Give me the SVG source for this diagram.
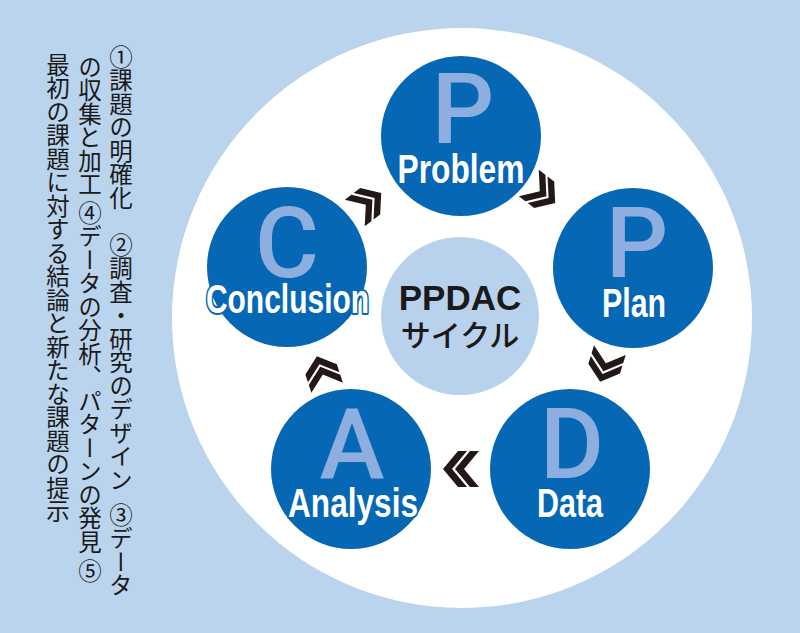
<svg xmlns="http://www.w3.org/2000/svg" xmlns:xlink="http://www.w3.org/1999/xlink" width="800" height="633" viewBox="0 0 800 633">
<style>
.node{fill:#0667b4}
.big{font-family:Roboto,"Liberation Sans",sans-serif;font-weight:500;font-size:98px;fill:#8eaee0;text-anchor:middle}
.lbl{font-family:"Liberation Sans",Arial,sans-serif;font-weight:bold;font-size:41px;fill:#ffffff;text-anchor:middle;stroke:#0667b4;stroke-width:4;stroke-linejoin:round;paint-order:stroke}
.note{font-family:"Noto Sans CJK JP","Noto Sans CJK SC",sans-serif;font-size:23.5px;fill:#1a1a1a;writing-mode:vertical-rl}
.chev{fill:#231815}
</style>
<defs>
<g id="chev">
<polygon points="-6,-18 3,-18 18,0 3,18 -6,18 9,0"/>
<polygon points="-18,-18 -9,-18 6,0 -9,18 -18,18 -3,0"/>
</g>
</defs>
<rect x="0" y="0" width="800" height="633" fill="#bad4ee"/>
<circle cx="462" cy="318" r="290" fill="#ffffff"/>
<g id="notes">
<text class="note" x="121" y="45">①課題の明確化&#12288;②調査・研究のデザイン&#8194;③データ</text>
<text class="note" x="90" y="55">の収集と加工 ④データの分析、パターンの発見 ⑤</text>
<text class="note" x="58" y="53">最初の課題に対する結論と新たな課題の提示</text>
</g>
<g id="center">
<circle cx="460" cy="316" r="79" fill="#b8d2ee"/>
<text x="460" y="310" font-family="'Liberation Sans',Arial,sans-serif" font-weight="bold" font-size="35" text-anchor="middle" fill="#1a1a1a">PPDAC</text>
<text x="460" y="346" font-family="'Noto Sans CJK JP',sans-serif" font-weight="500" font-size="30" text-anchor="middle" fill="#1a1a1a">サイクル</text>
</g>
<g id="connectors" class="chev">
<use xlink:href="#chev" transform="translate(368,203) rotate(-37) scale(0.92)"/>
<use xlink:href="#chev" transform="translate(542,193) rotate(37) scale(0.92)"/>
<use xlink:href="#chev" transform="translate(605,366) rotate(107) scale(0.92)"/>
<use xlink:href="#chev" transform="translate(461,469) rotate(180)"/>
<use xlink:href="#chev" transform="translate(322,372) rotate(-108) scale(0.92)"/>
</g>
<g id="problem">
<circle class="node" cx="461" cy="136" r="80"/>
<text class="big" x="463" y="143">P</text>
<text class="lbl" transform="translate(461,183) scale(0.774,1)">Problem</text>
</g>
<g id="plan">
<circle class="node" cx="633" cy="268" r="80"/>
<text class="big" x="637" y="277">P</text>
<text class="lbl" transform="translate(634,317) scale(0.739,1)">Plan</text>
</g>
<g id="data">
<circle class="node" cx="570" cy="469" r="80"/>
<text class="big" x="572" y="478">D</text>
<text class="lbl" transform="translate(570,517) scale(0.743,1)">Data</text>
</g>
<g id="analysis">
<circle class="node" cx="351" cy="469" r="80"/>
<text class="big" x="352" y="478">A</text>
<text class="lbl" transform="translate(353,517) scale(0.771,1)">Analysis</text>
</g>
<g id="conclusion">
<circle class="node" cx="287" cy="267" r="80"/>
<text class="big" x="287" y="277">C</text>
<text class="lbl" transform="translate(287.5,313) scale(0.731,1)">Conclusion</text>
</g>
</svg>
